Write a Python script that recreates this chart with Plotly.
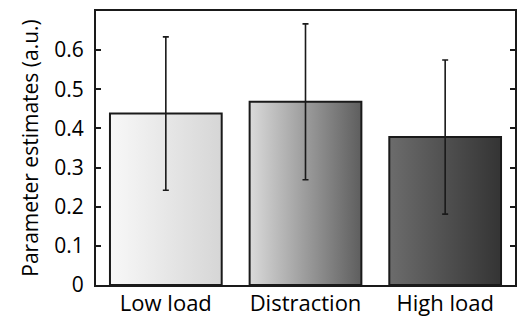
import plotly.graph_objects as go

categories = ["Low load", "Distraction", "High load"]
means = [0.438, 0.468, 0.378]
errors = [0.196, 0.199, 0.197]
grad_start = ["#f8f8f8", "#dadada", "#6c6c6c"]
grad_end = ["#d6d6d6", "#5e5e5e", "#343434"]
y_ticks = [0, 0.1, 0.2, 0.3, 0.4, 0.5, 0.6]

BAR_HALF = 0.4
FONT = "Open Sans"

fig = go.Figure()
xs = list(range(len(categories)))
for i, (v, c0, c1) in enumerate(zip(means, grad_start, grad_end)):
    fig.add_trace(go.Scatter(
        x=[i - BAR_HALF, i - BAR_HALF, i + BAR_HALF, i + BAR_HALF, i - BAR_HALF],
        y=[0, v, v, 0, 0],
        mode="lines",
        fill="toself",
        fillgradient=dict(type="horizontal", colorscale=[[0, c0], [1, c1]]),
        line=dict(color="#1a1a1a", width=2),
        hoverinfo="skip",
        showlegend=False,
    ))

fig.add_trace(go.Scatter(
    x=xs, y=means, mode="markers",
    marker=dict(size=1, color="rgba(0,0,0,0)"),
    error_y=dict(type="data", array=errors, visible=True,
                 color="#1a1a1a", thickness=1.6, width=3),
    hoverinfo="skip",
    showlegend=False,
))

fig.update_layout(
    width=520, height=317,
    margin=dict(l=96, r=5, t=11, b=32),
    paper_bgcolor="white", plot_bgcolor="white",
    font=dict(family=FONT, color="black"),
    xaxis=dict(
        range=[-0.5, 2.5], tickmode="array", tickvals=xs, ticktext=categories,
        ticks="", showgrid=False, zeroline=False, automargin=False,
        showline=True, linecolor="#1a1a1a", linewidth=2, mirror=True,
        ticklabelstandoff=-2,
        tickfont=dict(size=22, family=FONT),
    ),
    yaxis=dict(
        range=[0, 0.70], tickmode="array", tickvals=y_ticks,
        ticktext=[("0" if t == 0 else f"{t:.1f}") for t in y_ticks],
        ticks="inside", ticklen=5, tickwidth=2, tickcolor="#1a1a1a",
        ticklabelstandoff=6,
        showgrid=False, zeroline=False, automargin=False,
        showline=True, linecolor="#1a1a1a", linewidth=2, mirror="ticks",
        tickfont=dict(size=21, family=FONT),
        title=dict(text="Parameter estimates (a.u.)", font=dict(size=21, family=FONT), standoff=10),
    ),
)

fig.write_html("out.html", post_script="document.body.style.margin='0';",
               config={"displayModeBar": False})
